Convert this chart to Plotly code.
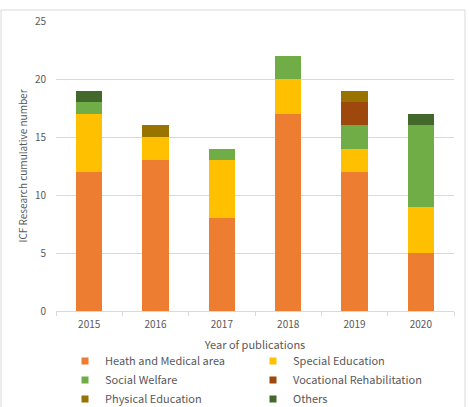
import plotly.graph_objects as go

years = ["2015", "2016", "2017", "2018", "2019", "2020"]
heath = [12, 13, 8, 17, 12, 5]
special = [5, 2, 5, 3, 2, 4]
social = [1, 0, 1, 2, 2, 7]
vocational = [0, 0, 0, 0, 2, 0]
physical = [0, 1, 0, 0, 1, 0]
others = [1, 0, 0, 0, 0, 1]

series = [
    ("Heath and Medical area", heath, "#ED7D31", "legend"),
    ("Special Education", special, "#FFC000", "legend"),
    ("Social Welfare", social, "#70AD47", "legend2"),
    ("Vocational Rehabilitation", vocational, "#9E480E", "legend2"),
    ("Physical Education", physical, "#997300", "legend3"),
    ("Others", others, "#43682B", "legend3"),
]

FONT = "Noto Sans CJK KR, Open Sans, sans-serif"
GRAY = "#595959"

fig = go.Figure()
for name, vals, color, lg in series:
    fig.add_trace(go.Bar(x=years, y=vals, name=name, marker_color=color,
                         marker_line_width=0, showlegend=False))
for name, vals, color, lg in series:
    # legend-only entries with small square swatches
    fig.add_trace(go.Scatter(x=[years[0]], y=[None], name=name, mode="markers",
                             marker=dict(symbol="square", size=7, color=color),
                             legend=lg, hoverinfo="skip"))

W, H = 469, 407
L, R, T, B = 56, 15, 21, 96
pw, ph = W - L - R, H - T - B

def px2x(px):
    return (px - L) / pw

def px2y(py):
    return (H - B - py) / ph

legend_common = dict(orientation="h", entrywidth=143, entrywidthmode="pixels",
                     font=dict(family=FONT, size=11, color=GRAY),
                     itemwidth=30, bgcolor="rgba(0,0,0,0)", traceorder="normal",
                     xanchor="left", yanchor="middle", tracegroupgap=0,
                     borderwidth=0)

LX = 65
fig.update_layout(
    width=W, height=H,
    margin=dict(l=L, r=R, t=T, b=B, pad=0, autoexpand=False),
    paper_bgcolor="white", plot_bgcolor="white",
    barmode="stack", bargap=0.6,
    font=dict(family=FONT, size=10, color=GRAY),
    xaxis=dict(showline=True, linecolor="#D9D9D9", linewidth=1,
               ticks="outside", tickson="boundaries", ticklen=4, tickcolor="#D9D9D9",
               ticklabelstandoff=4,
               tickfont=dict(size=10, color=GRAY), showgrid=False,
               title=dict(text="Year of publications", font=dict(size=11, color=GRAY), standoff=11)),
    yaxis=dict(range=[0, 25], dtick=5, showgrid=True, gridcolor="#D9D9D9", gridwidth=1,
               zeroline=False, showline=False, ticklabelstandoff=9,
               tickfont=dict(size=10, color=GRAY),
               title=dict(text="ICF Research cumulative number", font=dict(size=10, color=GRAY), standoff=5)),
    legend=dict(x=px2x(LX), y=px2y(361), **legend_common),
    legend2=dict(x=px2x(LX), y=px2y(380), **legend_common),
    legend3=dict(x=px2x(LX), y=px2y(399), **legend_common),
    shapes=[dict(type="rect", xref="paper", yref="paper",
                 x0=px2x(1), x1=px2x(465), y0=px2y(430), y1=px2y(10),
                 line=dict(color="#D9D9D9", width=1), fillcolor="rgba(0,0,0,0)",
                 layer="below")],
)

fig.write_html("out.html")
